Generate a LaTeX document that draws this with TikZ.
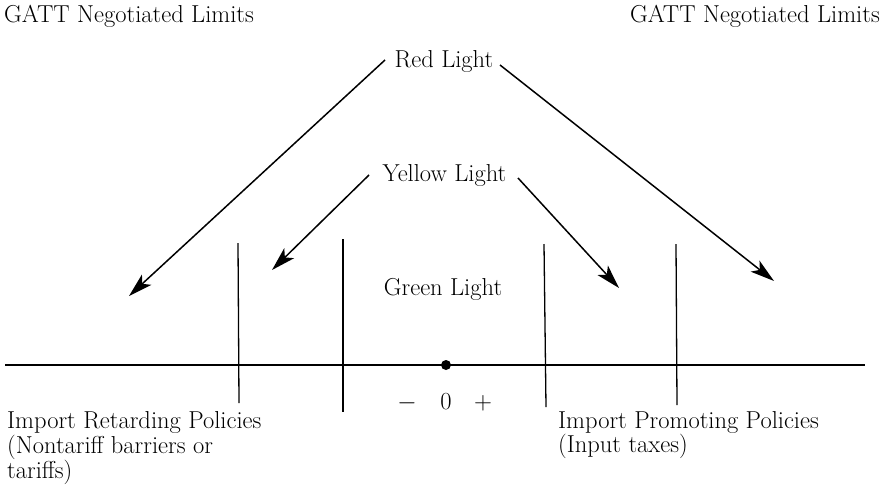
\documentclass[tikz,border=0pt]{standalone}
\usetikzlibrary{arrows.meta}
\begin{document}
\begin{tikzpicture}[x=1pt,y=-1pt,
  txt/.style={font=\fontsize{24.5}{27}\selectfont, inner sep=0pt},
  arr/.style={line width=1.5pt, -{Stealth[length=24pt,width=14pt,inset=6pt]}},
  rule/.style={line width=1.3pt},
  dotnode/.style={circle, fill=black, inner sep=0pt, minimum size=10pt}]
\useasboundingbox (0,0) rectangle (890,488);

% top labels
\node[txt, anchor=base west] (gattL) at (4,22) {GATT Negotiated Limits};
\node[txt, anchor=base east] (gattR) at (880,22) {GATT Negotiated Limits};
\node[txt, anchor=base] (red) at (444,67) {Red Light};
\node[txt, anchor=base] (yellow) at (444.5,181) {Yellow Light};
\node[txt, anchor=base] (green) at (443,295) {Green Light};

% arrow endpoints
\coordinate (redLs) at (385,60);
\coordinate (redLt) at (129,296);
\coordinate (redRs) at (500,65);
\coordinate (redRt) at (774,281);
\coordinate (yelLs) at (369,175);
\coordinate (yelLt) at (272,270);
\coordinate (yelRs) at (518,178);
\coordinate (yelRt) at (619,288);

\draw[arr] (redLs) -- (redLt);
\draw[arr] (redRs) -- (redRt);
\draw[arr] (yelLs) -- (yelLt);
\draw[arr] (yelRs) -- (yelRt);

% axis
\coordinate (axL) at (5,365);
\coordinate (axR) at (865,365);
\draw[rule] (axL) -- (axR);

% vertical limits
\coordinate (v1t) at (238,243); \coordinate (v1b) at (239,403);
\coordinate (v2t) at (343,239); \coordinate (v2b) at (343,412);
\coordinate (v3t) at (544,244); \coordinate (v3b) at (546,407);
\coordinate (v4t) at (676,244); \coordinate (v4b) at (677,405);
\draw[rule] (v1t) -- (v1b);
\draw[rule] (v2t) -- (v2b);
\draw[rule] (v3t) -- (v3b);
\draw[rule] (v4t) -- (v4b);

% origin
\node[dotnode] (zero) at (446,365) {};
\node[txt, anchor=base] (minus) at (407,409) {$-$};
\node[txt, anchor=base] (zerolab) at (446,409) {0};
\node[txt, anchor=base] (plus) at (483,409) {$+$};

% bottom labels
\node[txt, anchor=base west] (ret1) at (7,428) {Import Retarding Policies};
\node[txt, anchor=base west] (ret2) at (7,453) {(Nontariff barriers or};
\node[txt, anchor=base west] (ret3) at (7,478) {tariffs)};
\node[txt, anchor=base west] (pro1) at (558,428) {Import Promoting Policies};
\node[txt, anchor=base west] (pro2) at (558,452) {(Input taxes)};
\end{tikzpicture}
\end{document}
